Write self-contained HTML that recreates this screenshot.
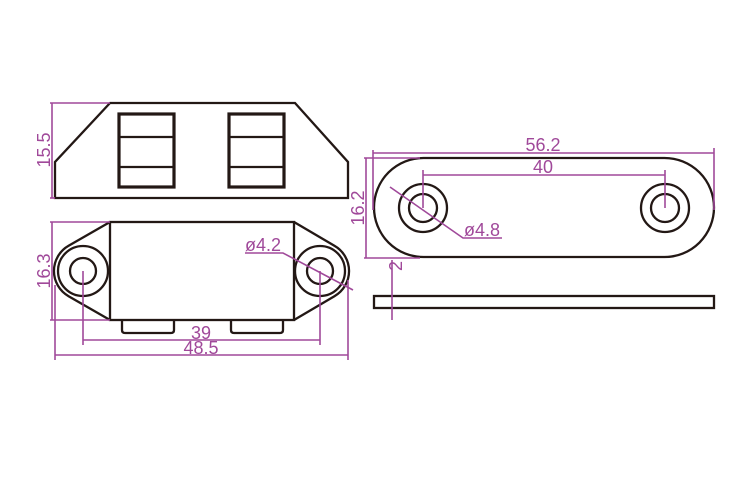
<!DOCTYPE html>
<html><head><meta charset="utf-8"><style>body{margin:0;background:#fff}svg{display:block}</style></head><body>
<svg width="750" height="500" viewBox="0 0 750 500" xmlns="http://www.w3.org/2000/svg">
<g fill="none" stroke="#231815" stroke-width="2.3">
<path d="M55,198 L55,162 L110,103 L295,103 L348,162 L348,198 Z"/>
<rect x="119" y="114" width="55" height="73" stroke-width="3.2"/>
<line x1="120" y1="137" x2="173" y2="137"/><line x1="120" y1="167" x2="173" y2="167"/>
<rect x="229" y="114" width="55" height="73" stroke-width="3.2"/>
<line x1="230" y1="137" x2="283" y2="137"/><line x1="230" y1="167" x2="283" y2="167"/>
<rect x="110" y="222" width="184" height="98"/>
<path d="M110,222 L68.6,245.8 A29,29 0 0 0 68.6,296.2 L110,320"/>
<path d="M294,222 L334.4,245.8 A29,29 0 0 1 334.4,296.2 L294,320"/>
<circle cx="83" cy="271" r="25"/><circle cx="83" cy="271" r="13"/>
<circle cx="320" cy="271" r="25"/><circle cx="320" cy="271" r="13"/>
<path d="M122,321 L122,330 Q122,333 125,333 L171,333 Q174,333 174,330 L174,321"/>
<path d="M231,321 L231,330 Q231,333 234,333 L280,333 Q283,333 283,330 L283,321"/>
<rect x="374" y="158" width="340" height="99" rx="49.5"/>
<circle cx="423" cy="208" r="24"/><circle cx="423" cy="208" r="14"/>
<circle cx="665" cy="208" r="24"/><circle cx="665" cy="208" r="14"/>
<rect x="374" y="296" width="340" height="12"/>
</g>
<g stroke="#a0499a" stroke-width="1.6" fill="none">
<line x1="50" y1="103" x2="110" y2="103"/><line x1="50" y1="198" x2="55" y2="198"/>
<line x1="52" y1="103" x2="52" y2="198"/>
<line x1="50" y1="222" x2="110" y2="222"/><line x1="50" y1="320" x2="110" y2="320"/>
<line x1="52" y1="222" x2="52" y2="320"/>
<line x1="83" y1="271" x2="83" y2="345"/><line x1="320" y1="271" x2="320" y2="345"/>
<line x1="83" y1="340" x2="320" y2="340"/>
<line x1="55" y1="285" x2="55" y2="360"/><line x1="348" y1="280" x2="348" y2="360"/>
<line x1="55" y1="355" x2="348" y2="355"/>
<path d="M245,253 L283,253 L353,290"/>
<line x1="373" y1="150" x2="373" y2="210"/><line x1="714" y1="148" x2="714" y2="210"/>
<line x1="373" y1="153" x2="714" y2="153"/>
<line x1="423" y1="170" x2="423" y2="208"/><line x1="665" y1="170" x2="665" y2="208"/>
<line x1="423" y1="175" x2="665" y2="175"/>
<line x1="364" y1="158" x2="420" y2="158"/><line x1="364" y1="258" x2="420" y2="258"/>
<line x1="366" y1="158" x2="366" y2="258"/>
<path d="M390,187 L463,238 L502,238"/>
<line x1="392" y1="260" x2="392" y2="320"/>
</g>
<g fill="#a0499a" font-family="Liberation Sans, sans-serif" font-size="18">
<text transform="translate(50,150) rotate(-90)" text-anchor="middle">15.5</text>
<text transform="translate(50,271) rotate(-90)" text-anchor="middle">16.3</text>
<text x="201" y="339" text-anchor="middle">39</text>
<text x="201" y="354" text-anchor="middle">48.5</text>
<text x="245" y="251">ø4.2</text>
<text x="543" y="151" text-anchor="middle">56.2</text>
<text x="543" y="173" text-anchor="middle">40</text>
<text transform="translate(364,208) rotate(-90)" text-anchor="middle">16.2</text>
<text x="464" y="236">ø4.8</text>
<text transform="translate(402,266) rotate(-90)" text-anchor="middle">2</text>
</g>
</svg>
</body></html>
